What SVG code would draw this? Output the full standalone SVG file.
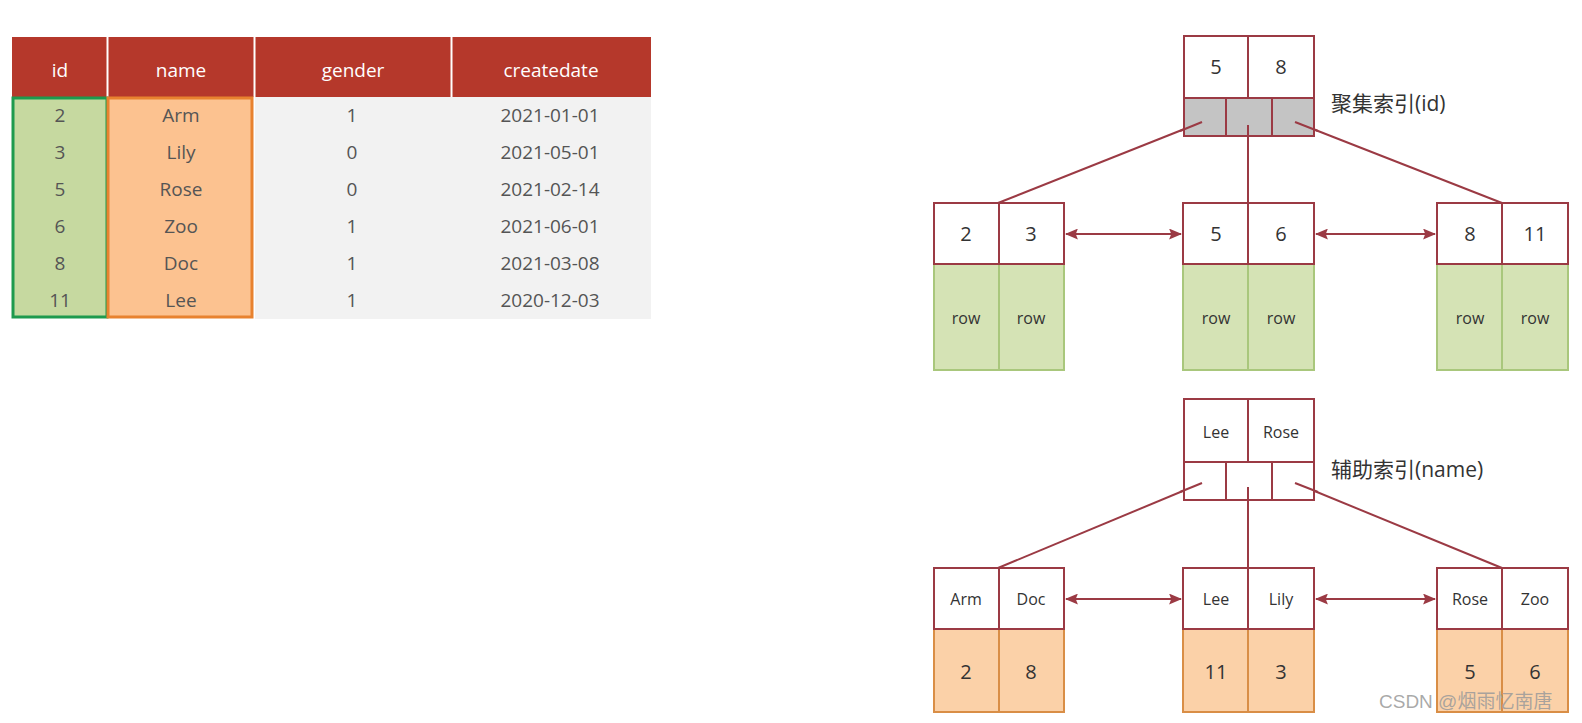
<svg xmlns="http://www.w3.org/2000/svg" width="1582" height="723" viewBox="0 0 1582 723">
<defs>
<style>
.th{font-family:"Open Sans","Liberation Sans",sans-serif;font-size:19px;fill:#ffffff;text-anchor:middle}
.td{font-family:"Open Sans","Liberation Sans",sans-serif;font-size:19px;fill:#555555;text-anchor:middle}
.k{font-family:"Open Sans","Liberation Sans",sans-serif;font-size:20px;fill:#333333;text-anchor:middle}
.ks{font-family:"Open Sans","Liberation Sans",sans-serif;font-size:16px;fill:#333333;text-anchor:middle}
.lbl{font-family:"Open Sans","Noto Sans CJK SC",sans-serif;font-size:21px;fill:#333333}
.keybox{fill:#ffffff;stroke:#9b3a44;stroke-width:2}
.gray{fill:#c4c4c4;stroke:#9b3a44;stroke-width:2}
.ptr{fill:#ffffff;stroke:#9b3a44;stroke-width:2}
.rowg{fill:#d5e3b5;stroke:#a9c77c;stroke-width:2}
.rowo{fill:#fbd1a8;stroke:#d98e46;stroke-width:2}
.conn{stroke:#9b3a44;stroke-width:2;fill:none}
</style>
<marker id="ah" viewBox="0 0 12 10" refX="11" refY="5" markerWidth="13" markerHeight="11" markerUnits="userSpaceOnUse" orient="auto-start-reverse">
<path d="M0,0 L12,5 L0,10 L2,5 z" fill="#9b3a44"/>
</marker>
</defs>
<rect x="0" y="0" width="1582" height="723" fill="#ffffff"/>

<g id="table">
<rect x="12" y="37" width="639" height="60" fill="#b5382b"/>
<line x1="107.5" y1="37" x2="107.5" y2="97" stroke="#ffffff" stroke-width="2"/>
<line x1="254.5" y1="37" x2="254.5" y2="97" stroke="#ffffff" stroke-width="2"/>
<line x1="451.5" y1="37" x2="451.5" y2="97" stroke="#ffffff" stroke-width="2"/>
<text class="th" x="60" y="77">id</text>
<text class="th" x="181" y="77">name</text>
<text class="th" x="353" y="77">gender</text>
<text class="th" x="551" y="77">createdate</text>
<rect x="255" y="97" width="396" height="222" fill="#f2f2f2"/>
<rect x="13" y="98" width="94" height="219" fill="#c6d9a0" stroke="#1e9a4e" stroke-width="3"/>
<rect x="108" y="98" width="144" height="219" fill="#fcc290" stroke="#e8822f" stroke-width="3"/>
<g class="td">
<text x="60" y="122">2</text><text x="181" y="122">Arm</text><text x="352" y="122">1</text><text x="550" y="122">2021-01-01</text>
<text x="60" y="159">3</text><text x="181" y="159">Lily</text><text x="352" y="159">0</text><text x="550" y="159">2021-05-01</text>
<text x="60" y="196">5</text><text x="181" y="196">Rose</text><text x="352" y="196">0</text><text x="550" y="196">2021-02-14</text>
<text x="60" y="233">6</text><text x="181" y="233">Zoo</text><text x="352" y="233">1</text><text x="550" y="233">2021-06-01</text>
<text x="60" y="270">8</text><text x="181" y="270">Doc</text><text x="352" y="270">1</text><text x="550" y="270">2021-03-08</text>
<text x="60" y="307">11</text><text x="181" y="307">Lee</text><text x="352" y="307">1</text><text x="550" y="307">2020-12-03</text>
</g>
</g>

<g id="connectors">
<line class="conn" x1="1202" y1="122" x2="998" y2="203"/>
<line class="conn" x1="1248" y1="125" x2="1248" y2="264"/>
<line class="conn" x1="1295" y1="122" x2="1502" y2="203"/>
<line class="conn" x1="1066" y1="234" x2="1181" y2="234" marker-start="url(#ah)" marker-end="url(#ah)"/>
<line class="conn" x1="1316" y1="234" x2="1435" y2="234" marker-start="url(#ah)" marker-end="url(#ah)"/>
<line class="conn" x1="1202" y1="483" x2="998" y2="568"/>
<line class="conn" x1="1248" y1="487" x2="1248" y2="629"/>
<line class="conn" x1="1295" y1="483" x2="1502" y2="568"/>
<line class="conn" x1="1066" y1="599" x2="1181" y2="599" marker-start="url(#ah)" marker-end="url(#ah)"/>
<line class="conn" x1="1316" y1="599" x2="1435" y2="599" marker-start="url(#ah)" marker-end="url(#ah)"/>
</g>

<g id="root1">
<rect class="keybox" x="1184" y="36" width="130" height="62"/>
<line x1="1248" y1="36" x2="1248" y2="98" stroke="#9b3a44" stroke-width="2"/>
<rect class="gray" x="1184" y="98" width="42" height="38"/>
<rect class="gray" x="1226" y="98" width="46" height="38"/>
<rect class="gray" x="1272" y="98" width="42" height="38"/>
<text class="k" x="1216" y="74">5</text>
<text class="k" x="1281" y="74">8</text>
<text class="lbl" x="1331" y="111">聚集索引(id)</text>
</g>
<line class="conn" x1="1202" y1="122" x2="1180" y2="131"/>
<line class="conn" x1="1248" y1="125" x2="1248" y2="137"/>
<line class="conn" x1="1295" y1="122" x2="1318" y2="131"/>

<g id="leaf1a">
<rect class="rowg" x="934" y="264" width="65" height="106"/>
<rect class="rowg" x="999" y="264" width="65" height="106"/>
<rect class="keybox" x="934" y="203" width="130" height="61"/>
<line x1="999" y1="203" x2="999" y2="264" stroke="#9b3a44" stroke-width="2"/>
<text class="k" x="966" y="241">2</text><text class="k" x="1031" y="241">3</text>
<text class="ks" x="966" y="324">row</text><text class="ks" x="1031" y="324">row</text>
</g>
<g id="leaf1b">
<rect class="rowg" x="1183" y="264" width="65" height="106"/>
<rect class="rowg" x="1248" y="264" width="66" height="106"/>
<rect class="keybox" x="1183" y="203" width="131" height="61"/>
<line x1="1248" y1="203" x2="1248" y2="264" stroke="#9b3a44" stroke-width="2"/>
<text class="k" x="1216" y="241">5</text><text class="k" x="1281" y="241">6</text>
<text class="ks" x="1216" y="324">row</text><text class="ks" x="1281" y="324">row</text>
</g>
<g id="leaf1c">
<rect class="rowg" x="1437" y="264" width="65" height="106"/>
<rect class="rowg" x="1502" y="264" width="66" height="106"/>
<rect class="keybox" x="1437" y="203" width="131" height="61"/>
<line x1="1502" y1="203" x2="1502" y2="264" stroke="#9b3a44" stroke-width="2"/>
<text class="k" x="1470" y="241">8</text><text class="k" x="1535" y="241">11</text>
<text class="ks" x="1470" y="324">row</text><text class="ks" x="1535" y="324">row</text>
</g>

<g id="root2">
<rect class="keybox" x="1184" y="399" width="130" height="63"/>
<line x1="1248" y1="399" x2="1248" y2="462" stroke="#9b3a44" stroke-width="2"/>
<rect class="ptr" x="1184" y="462" width="42" height="38"/>
<rect class="ptr" x="1226" y="462" width="46" height="38"/>
<rect class="ptr" x="1272" y="462" width="42" height="38"/>
<text class="ks" x="1216" y="438">Lee</text>
<text class="ks" x="1281" y="438">Rose</text>
<text class="lbl" x="1331" y="477">辅助索引(name)</text>
</g>
<line class="conn" x1="1202" y1="483" x2="1180" y2="492"/>
<line class="conn" x1="1248" y1="487" x2="1248" y2="501"/>
<line class="conn" x1="1295" y1="483" x2="1318" y2="492"/>

<g id="leaf2a">
<rect class="rowo" x="934" y="629" width="65" height="83"/>
<rect class="rowo" x="999" y="629" width="65" height="83"/>
<rect class="keybox" x="934" y="568" width="130" height="61"/>
<line x1="999" y1="568" x2="999" y2="629" stroke="#9b3a44" stroke-width="2"/>
<text class="ks" x="966" y="605">Arm</text><text class="ks" x="1031" y="605">Doc</text>
<text class="k" x="966" y="679">2</text><text class="k" x="1031" y="679">8</text>
</g>
<g id="leaf2b">
<rect class="rowo" x="1183" y="629" width="65" height="83"/>
<rect class="rowo" x="1248" y="629" width="66" height="83"/>
<rect class="keybox" x="1183" y="568" width="131" height="61"/>
<line x1="1248" y1="568" x2="1248" y2="629" stroke="#9b3a44" stroke-width="2"/>
<text class="ks" x="1216" y="605">Lee</text><text class="ks" x="1281" y="605">Lily</text>
<text class="k" x="1216" y="679">11</text><text class="k" x="1281" y="679">3</text>
</g>
<g id="leaf2c">
<rect class="rowo" x="1437" y="629" width="65" height="83"/>
<rect class="rowo" x="1502" y="629" width="66" height="83"/>
<rect class="keybox" x="1437" y="568" width="131" height="61"/>
<line x1="1502" y1="568" x2="1502" y2="629" stroke="#9b3a44" stroke-width="2"/>
<text class="ks" x="1470" y="605">Rose</text><text class="ks" x="1535" y="605">Zoo</text>
<text class="k" x="1470" y="679">5</text><text class="k" x="1535" y="679">6</text>
</g>

<text x="1379" y="708" font-family="'Liberation Sans','Noto Sans CJK SC',sans-serif" font-size="19" fill="#9a9a9a" fill-opacity="0.85">CSDN @烟雨忆南唐</text>
</svg>
